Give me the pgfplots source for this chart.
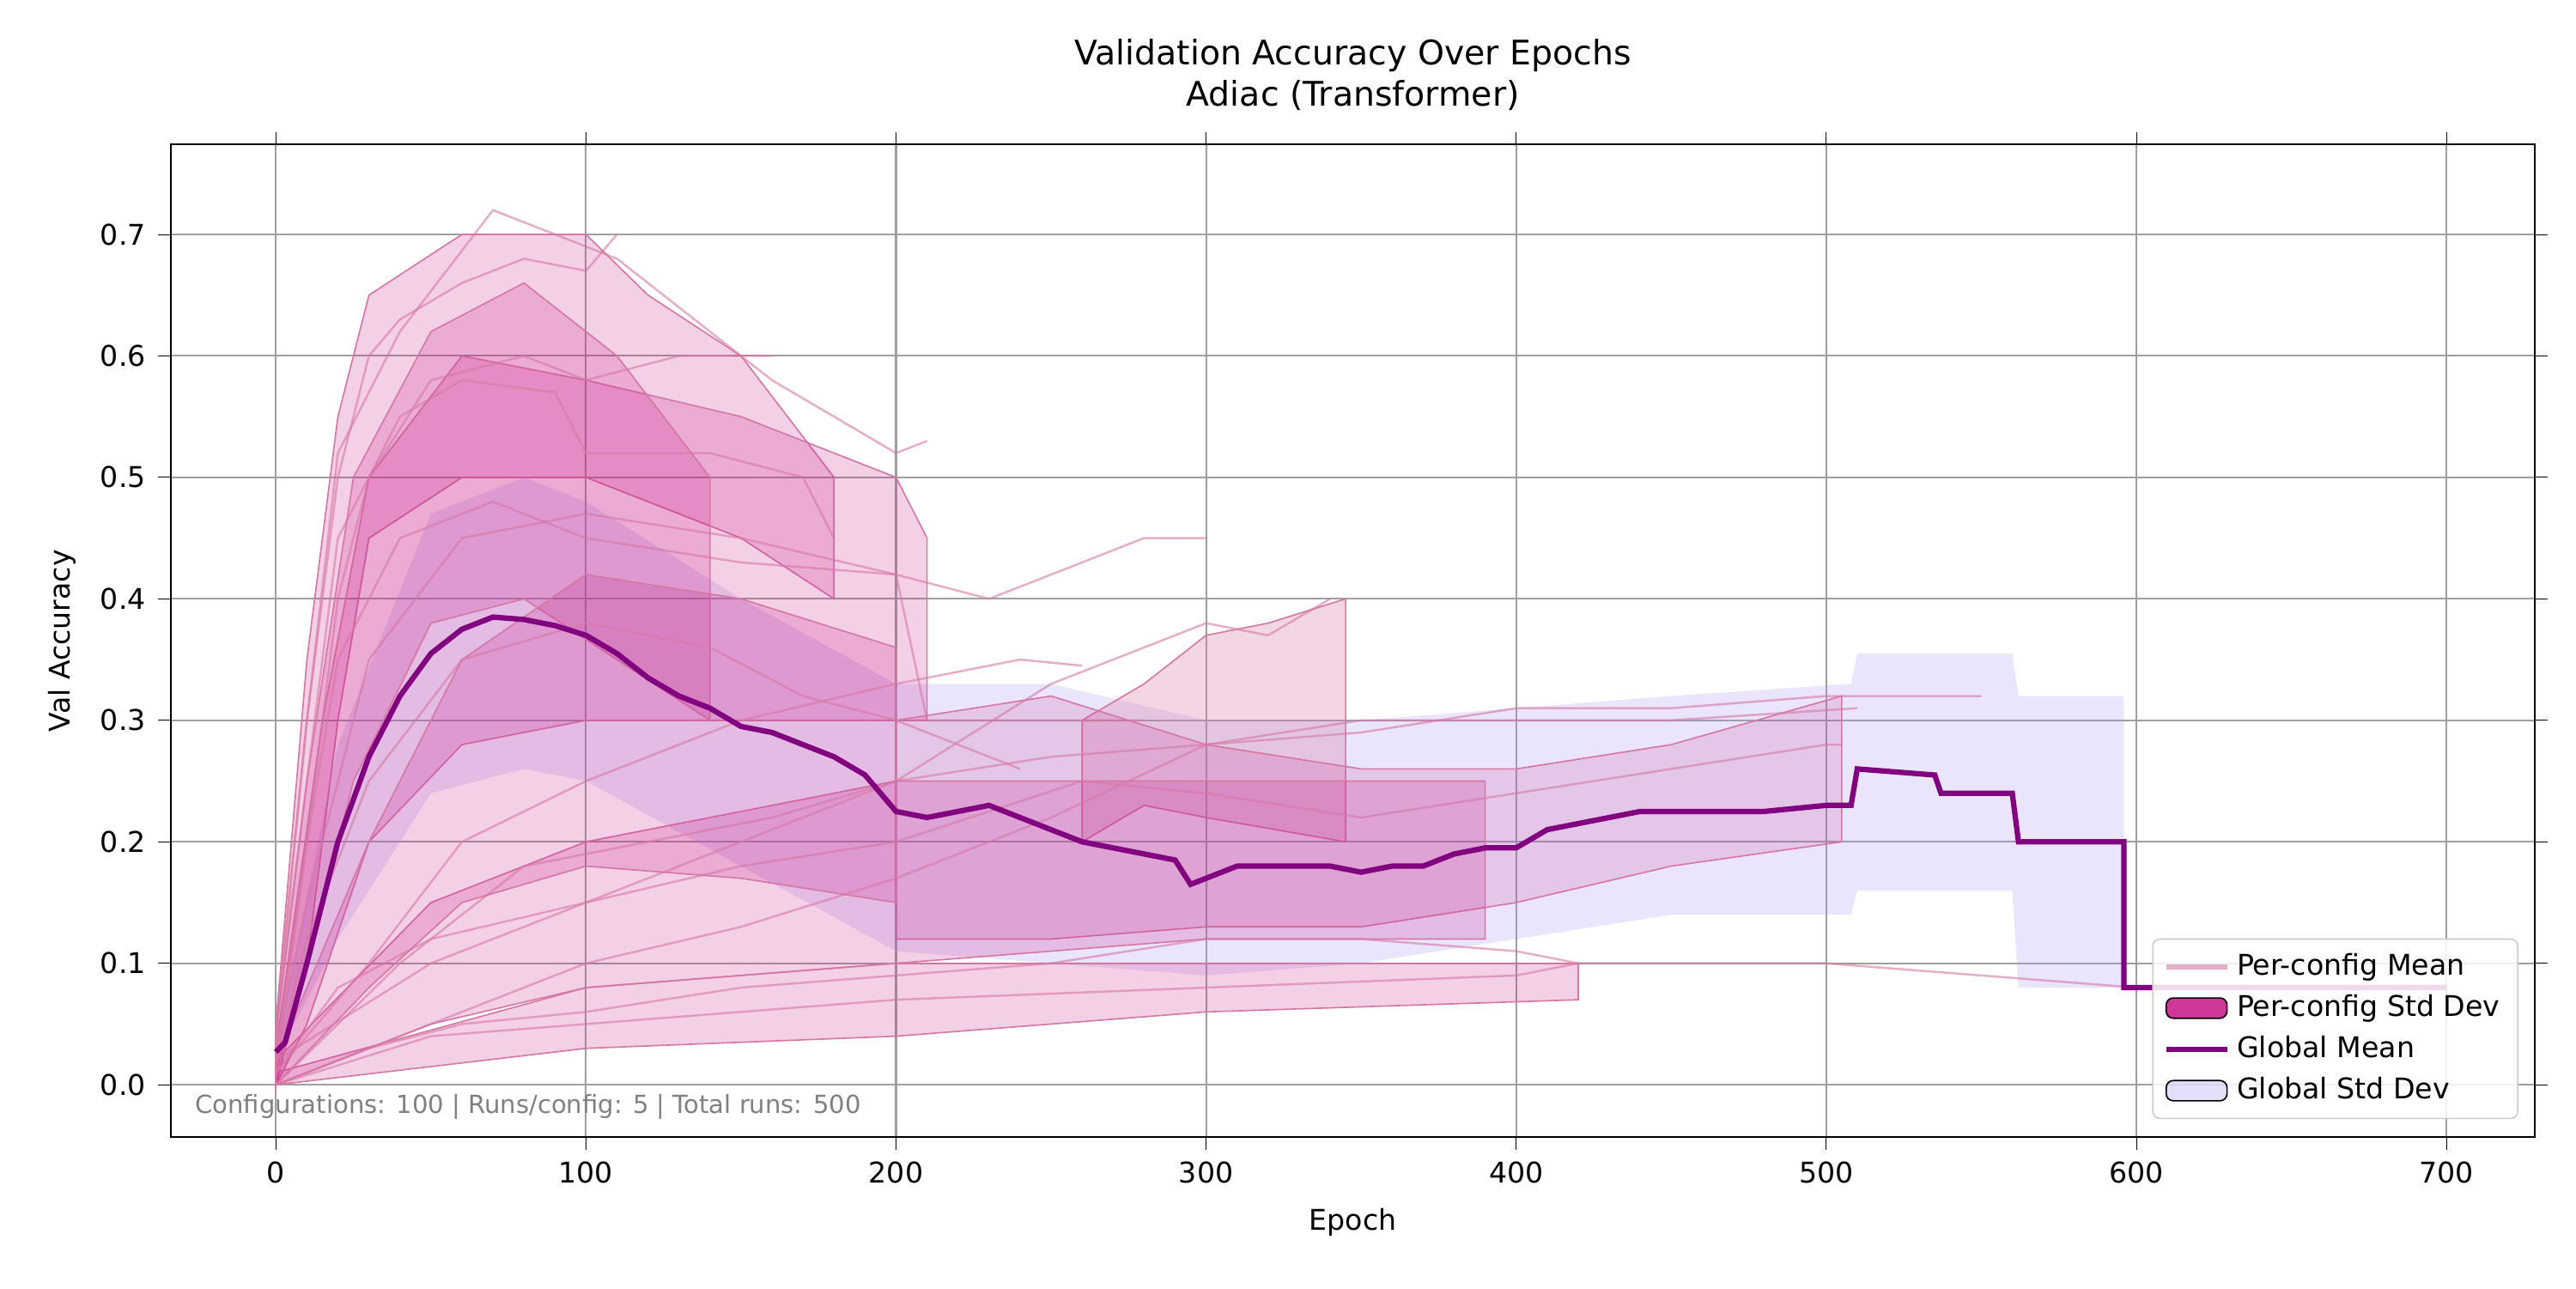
\documentclass[border=0pt]{standalone}
\usepackage{pgfplots}
\pgfplotsset{compat=1.18}
\usepackage{fontspec}
\setmainfont{DejaVu Sans}
\definecolor{pc}{RGB}{199,21,133}
\definecolor{pl}{RGB}{214,120,165}
\definecolor{gm}{RGB}{128,0,128}
\definecolor{gs}{RGB}{170,150,240}
\begin{document}
\begin{tikzpicture}
\begin{axis}[scale only axis, width=9.177in, height=3.852in,
 xmin=-33.9, xmax=728.6, ymin=-0.043, ymax=0.774,
 xtick={0,100,...,700}, ytick={0,0.1,...,0.7},
 yticklabel style={/pgf/number format/fixed,/pgf/number format/precision=1,/pgf/number format/fixed zerofill},
 /pgf/number format/assume math mode=true,
 grid=major, grid style={gray!75, line width=0.5pt},
 tick label style={font=\fontsize{8}{10}\selectfont}, tick align=outside, tick style={black},
 major tick length=3.5pt,
 xlabel={Epoch}, ylabel={Val Accuracy},
 label style={font=\fontsize{8}{10}\selectfont},
 title style={font=\fontsize{9.5}{11.5}\selectfont, align=center},
 title={Validation Accuracy Over Epochs\\Adiac (Transformer)},
 legend style={at={(0.993,0.018)}, anchor=south east, font=\fontsize{8}{10}\selectfont, draw=gray!40, fill=white, fill opacity=0.85, text opacity=1, rounded corners=2pt},
 legend cell align=left]
% global std
\addplot[draw=none, fill=gs, fill opacity=0.25, forget plot] coordinates {
(0,0.03)(20,0.28)(50,0.47)(80,0.5)(100,0.48)(150,0.4)(200,0.33)(250,0.33)(300,0.3)(350,0.3)(400,0.31)(450,0.32)(508,0.33)(510,0.355)(560,0.355)(562,0.32)(596,0.32)
(596,0.08)(562,0.08)(560,0.16)(510,0.16)(508,0.14)(450,0.14)(400,0.12)(350,0.1)(300,0.09)(250,0.1)(200,0.11)(150,0.18)(100,0.25)(80,0.26)(50,0.24)(20,0.12)(0,0.02)} --cycle;
% per-config bands
\addplot[draw=pl, fill=pc, fill opacity=0.2, forget plot] coordinates {(0,0.05)(10,0.35)(20,0.55)(30,0.65)(60,0.7)(100,0.7)(120,0.65)(150,0.6)(180,0.5)(180,0.4)(150,0.45)(100,0.5)(60,0.5)(30,0.45)(20,0.3)(10,0.1)(0,0)} --cycle;
\addplot[draw=pl, fill=pc, fill opacity=0.2, forget plot] coordinates {(0,0.03)(15,0.3)(30,0.5)(60,0.6)(100,0.58)(150,0.55)(200,0.5)(210,0.45)(210,0.3)(150,0.3)(100,0.3)(60,0.28)(30,0.2)(10,0.05)(0,0)} --cycle;
\addplot[draw=pl, fill=pc, fill opacity=0.2, forget plot] coordinates {(0,0.04)(10,0.25)(25,0.5)(50,0.62)(80,0.66)(110,0.6)(140,0.5)(140,0.3)(110,0.35)(80,0.4)(50,0.38)(25,0.25)(10,0.1)(0,0.01)} --cycle;
\addplot[draw=pl, fill=pl, fill opacity=0.3, forget plot] coordinates {(260,0.3)(280,0.33)(300,0.37)(320,0.38)(345,0.4)(345,0.2)(300,0.22)(280,0.23)(260,0.2)} --cycle;
\addplot[draw=pl, fill=pc, fill opacity=0.15, forget plot] coordinates {(200,0.3)(250,0.32)(300,0.28)(350,0.26)(400,0.26)(450,0.28)(505,0.32)(505,0.2)(450,0.18)(400,0.15)(350,0.13)(300,0.13)(250,0.12)(200,0.12)} --cycle;
\addplot[draw=pl, fill=pc, fill opacity=0.2, forget plot] coordinates {(0,0.01)(100,0.08)(200,0.1)(300,0.1)(420,0.1)(420,0.07)(300,0.06)(200,0.04)(100,0.03)(0,0)} --cycle;
\addplot[draw=pl, fill=pc, fill opacity=0.2, forget plot] coordinates {(0,0.02)(50,0.15)(100,0.2)(200,0.25)(300,0.25)(390,0.25)(390,0.12)(300,0.12)(200,0.1)(100,0.08)(50,0.05)(0,0)} --cycle;
\addplot[draw=pl, fill=pc, fill opacity=0.2, forget plot] coordinates {(0,0.02)(30,0.2)(60,0.35)(100,0.42)(150,0.4)(200,0.36)(200,0.15)(150,0.17)(100,0.18)(60,0.15)(30,0.08)(0,0)} --cycle;
% per-config mean lines
\pgfplotsset{pcl/.style={pl, opacity=0.6, line width=0.6pt, forget plot}}
\addplot[pcl] coordinates {(0,0.05)(10,0.3)(20,0.5)(30,0.6)(40,0.63)(60,0.66)(80,0.68)(100,0.67)(110,0.70)};
\addplot[pcl] coordinates {(0,0.02)(10,0.2)(20,0.4)(30,0.5)(50,0.58)(80,0.6)(100,0.58)(130,0.6)(150,0.6)(160,0.58)(200,0.52)(210,0.53)};
\addplot[pcl] coordinates {(0,0.03)(10,0.15)(30,0.35)(60,0.45)(100,0.47)(150,0.45)(200,0.42)(230,0.40)(260,0.43)(280,0.45)(300,0.45)};
\addplot[pcl] coordinates {(0,0.0)(30,0.03)(60,0.05)(100,0.06)(150,0.08)(200,0.09)(250,0.1)(300,0.12)(350,0.12)(400,0.11)(420,0.1)(450,0.1)(500,0.1)(550,0.09)(600,0.08)(695,0.08)};
\addplot[pcl] coordinates {(0,0.0)(50,0.05)(100,0.1)(150,0.13)(200,0.17)(250,0.22)(300,0.28)(350,0.29)(400,0.31)(450,0.31)(500,0.32)(550,0.32)};
\addplot[pcl] coordinates {(0,0.01)(10,0.2)(20,0.35)(40,0.45)(70,0.48)(100,0.45)(150,0.43)(200,0.42)(210,0.3)(250,0.3)(280,0.3)};
\addplot[pcl] coordinates {(0,0.02)(50,0.1)(100,0.15)(150,0.2)(200,0.25)(250,0.33)(300,0.38)(320,0.37)(340,0.4)};
\addplot[pcl] coordinates {(0,0.0)(50,0.04)(100,0.05)(200,0.07)(300,0.08)(400,0.09)(420,0.1)};
\addplot[pcl] coordinates {(0,0.05)(10,0.25)(20,0.45)(40,0.55)(60,0.58)(90,0.57)(100,0.52)(140,0.52)(170,0.5)(180,0.45)};
\addplot[pcl] coordinates {(0,0.01)(20,0.08)(50,0.12)(100,0.15)(150,0.18)(200,0.2)(260,0.25)(300,0.24)(350,0.22)(400,0.24)(450,0.26)(500,0.28)(505,0.28)};
\addplot[pcl] coordinates {(0,0.01)(30,0.1)(60,0.2)(100,0.25)(150,0.3)(200,0.33)(240,0.35)(260,0.345)};
\addplot[pcl] coordinates {(0,0.02)(10,0.12)(30,0.25)(60,0.35)(100,0.38)(140,0.36)(170,0.32)(200,0.3)(240,0.26)};
\addplot[pcl] coordinates {(0,0.04)(10,0.3)(20,0.52)(40,0.62)(70,0.72)(90,0.7)(110,0.68)(130,0.64)(150,0.6)(160,0.6)};
\addplot[pcl] coordinates {(0,0.0)(40,0.1)(80,0.18)(120,0.2)(160,0.22)(200,0.25)(250,0.27)(300,0.28)(350,0.3)(400,0.3)(450,0.3)(510,0.31)};
% global mean
\addplot[gm, line width=1.5pt, forget plot] coordinates {
(0,0.027)(3,0.035)(10,0.1)(20,0.2)(30,0.27)(40,0.32)(50,0.355)(60,0.375)(70,0.385)(80,0.383)(90,0.378)(100,0.37)(110,0.355)(120,0.335)(130,0.32)(140,0.31)(150,0.295)(160,0.29)(170,0.28)(180,0.27)(190,0.255)(200,0.225)(210,0.22)(220,0.225)(230,0.23)(240,0.22)(250,0.21)(260,0.2)(270,0.195)(280,0.19)(290,0.185)(295,0.165)(300,0.17)(310,0.18)(320,0.18)(340,0.18)(350,0.175)(360,0.18)(370,0.18)(380,0.19)(390,0.195)(400,0.195)(410,0.21)(420,0.215)(440,0.225)(460,0.225)(480,0.225)(500,0.23)(508,0.23)(510,0.26)(535,0.255)(537,0.24)(560,0.24)(562,0.2)(596,0.2)(596,0.08)(700,0.08)};
\addlegendimage{pl, opacity=0.6, line width=1.5pt}
\addlegendentry{Per-config Mean}
\addlegendimage{area legend, fill=pc, draw=none}
\addlegendentry{Per-config Std Dev}
\addlegendimage{gm, line width=1.5pt}
\addlegendentry{Global Mean}
\addlegendimage{area legend, fill=gs, fill opacity=0.3, draw=none}
\addlegendentry{Global Std Dev}
\node[anchor=south west, text=gray, font=\fontsize{7}{9}\selectfont] at (rel axis cs:0.005,0.005) {Configurations: 100 | Runs/config: 5 | Total runs: 500};
\end{axis}
\pgfresetboundingbox
\path (-0.663in,-0.587in) rectangle (9.336in,4.413in);
\end{tikzpicture}
\end{document}
